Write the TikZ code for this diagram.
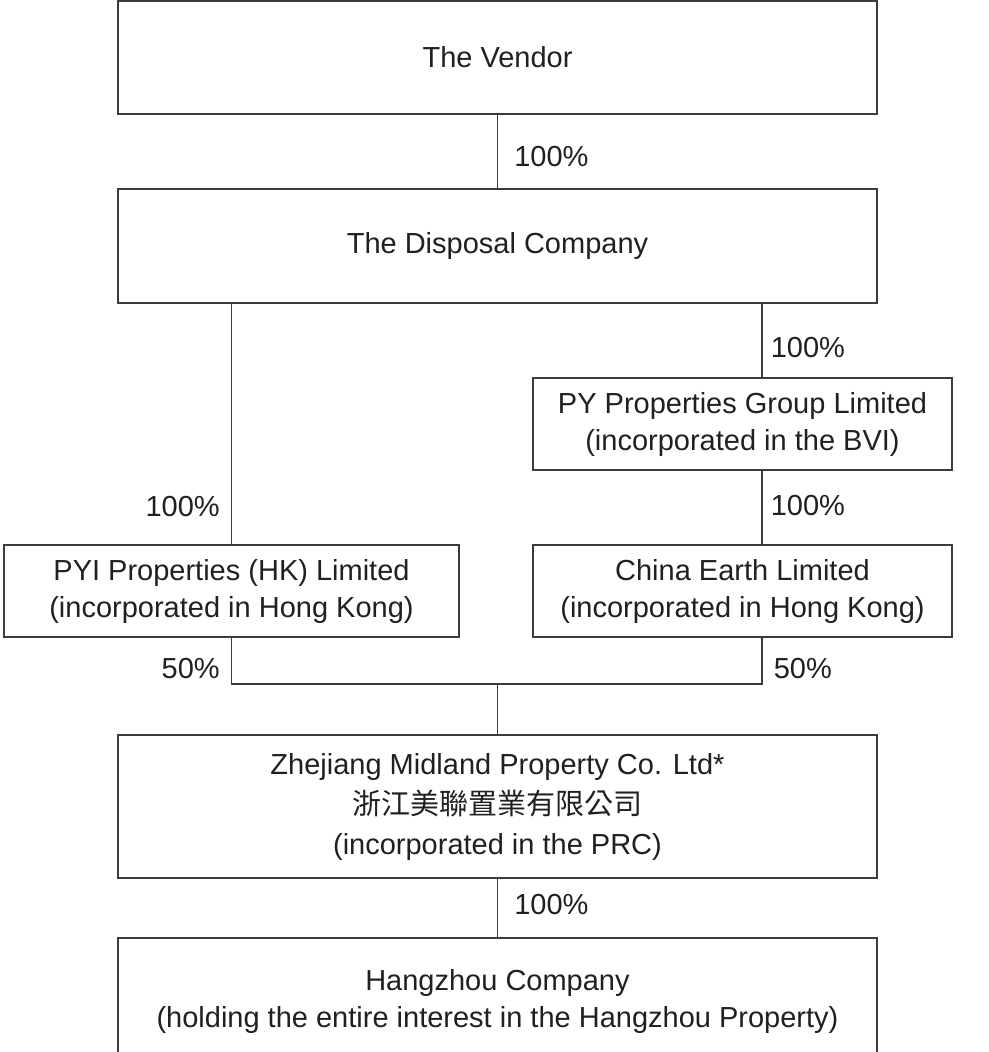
\documentclass[tikz,border=0pt]{standalone}
\usepackage{fontspec}
\setmainfont{Liberation Sans}
\newfontfamily\cjk{Noto Sans CJK TC}
\usetikzlibrary{positioning}

\definecolor{ink}{HTML}{231F20}
\definecolor{rule}{HTML}{3C3C3C}

\tikzstyle{box}=[draw=rule,line width=1.5pt,inner sep=0pt,outer sep=0pt,align=center,text=ink,font=\fontsize{29}{37}\selectfont]
\tikzstyle{link}=[draw=rule,line width=1.6pt]
\tikzstyle{pct}=[text=ink,font=\fontsize{29}{37}\selectfont,inner sep=0pt]

\begin{document}
\begin{tikzpicture}[x=1pt,y=-1pt]

   \useasboundingbox (0,0) rectangle (988,1052);
   \clip (0,0) rectangle (988,1052);

   % Vendor and disposal company

   \node[box,minimum width=759pt,minimum height=113pt] (vendor) at (497.5,57.5) {The Vendor};
   \node[box,minimum width=759pt,minimum height=114pt] (disposal) at (497.5,246) {The Disposal Company};

   % BVI branch

   \node[box,minimum width=419pt,minimum height=92pt] (pyg) at (742.5,424) {PY Properties Group Limited\\(incorporated in the BVI)};
   \node[box,minimum width=419pt,minimum height=92pt] (earth) at (742.5,591) {China Earth Limited\\(incorporated in Hong Kong)};

   % Hong Kong branch

   \node[box,minimum width=455pt,minimum height=92pt] (pyi) at (231.5,591) {PYI Properties (HK) Limited\\(incorporated in Hong Kong)};

   % Joint venture and below

   \node[box,minimum width=759pt,minimum height=143pt] (midland) at (497.5,806.5) {Zhejiang Midland Property Co. Ltd*\\[3pt]{\cjk 浙江美聯置業有限公司}\\[3pt](incorporated in the PRC)};
   \node[box,minimum width=759pt,minimum height=130pt,anchor=north] (hzbox) at (497.5,938) {};
   \node[pct,align=center] (hz) at (497.5,1001) {Hangzhou Company\\(holding the entire interest in the Hangzhou Property)};

   \coordinate (rt) at (762,0);
   \coordinate (jn) at (497.5,684);

   \draw[link] (vendor) -- node[pct,pos=0.57,anchor=west,xshift=16pt]{100\%} (disposal);
   \draw[link] (disposal.south -| rt) -- node[pct,pos=0.59,anchor=west,xshift=8pt]{100\%} (pyg.north -| rt);
   \draw[link] (pyg.south -| rt) -- node[pct,pos=0.48,anchor=west,xshift=8pt]{100\%} (earth.north -| rt);
   \draw[link] (disposal.south -| pyi.north) -- node[pct,pos=0.84,anchor=east,xshift=-11pt]{100\%} (pyi.north);
   \draw[link] (pyi.south) |- node[pct,pos=0.33,anchor=east,xshift=-11pt]{50\%} (jn)
      -| node[pct,pos=0.67,anchor=west,xshift=11pt]{50\%} (earth.south -| rt);
   \draw[link] (jn) -- (midland.north);
   \draw[link] (midland) -- node[pct,pos=0.45,anchor=west,xshift=16pt]{100\%} (hzbox);

\end{tikzpicture}
\end{document}
